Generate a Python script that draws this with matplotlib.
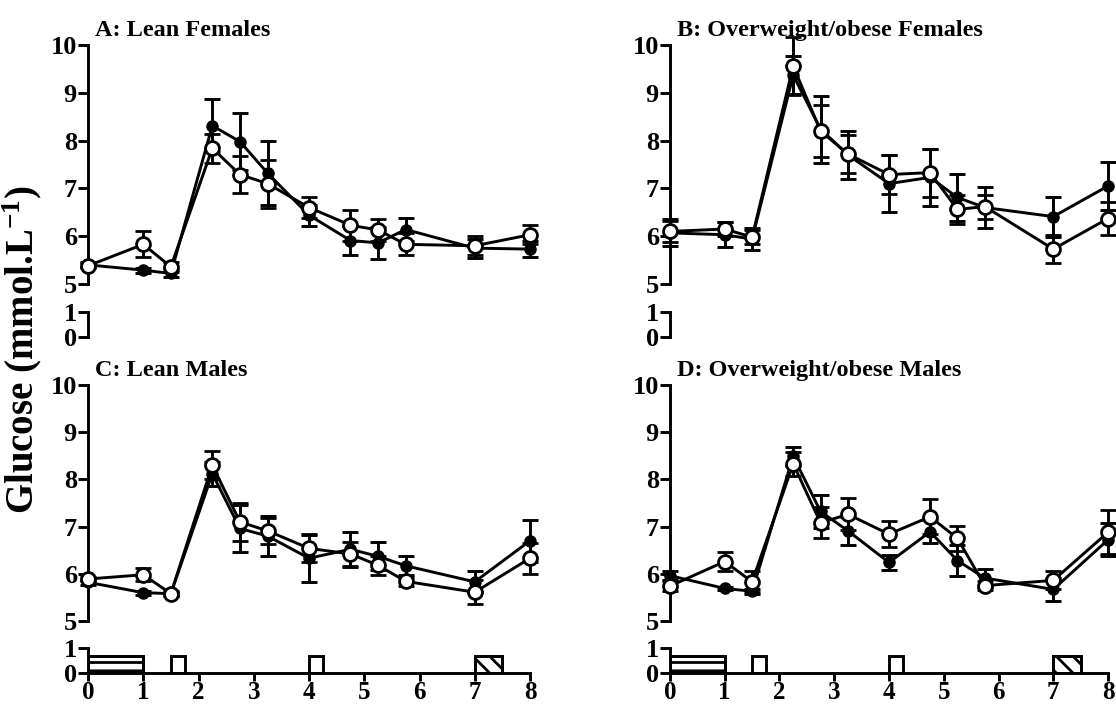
import matplotlib
matplotlib.use("Agg")
import matplotlib.pyplot as plt

# ---------------- data ----------------
time = [0, 1, 1.5, 2.25, 2.75, 3.25, 4, 4.75, 5.25, 5.75, 7, 8]

A_filled = [5.40, 5.29, 5.22, 8.31, 7.98, 7.32, 6.44, 5.91, 5.86, 6.14, 5.75, 5.73]
A_filled_sem = [0.05, 0.05, 0.08, 0.55, 0.60, 0.67, 0.22, 0.30, 0.34, 0.25, 0.20, 0.17]
A_open = [5.38, 5.83, 5.36, 7.84, 7.29, 7.10, 6.60, 6.23, 6.13, 5.83, 5.80, 6.03]
A_open_sem = [0.05, 0.27, 0.10, 0.30, 0.38, 0.50, 0.22, 0.32, 0.22, 0.23, 0.20, 0.20]

B_filled = [6.07, 6.03, 5.94, 9.37, 8.24, 7.70, 7.10, 7.23, 6.81, 6.60, 6.41, 7.05]
B_filled_sem = [0.28, 0.26, 0.23, 0.40, 0.70, 0.50, 0.60, 0.60, 0.50, 0.42, 0.42, 0.50]
B_open = [6.10, 6.15, 5.98, 9.56, 8.20, 7.72, 7.29, 7.33, 6.56, 6.62, 5.73, 6.37]
B_open_sem = [0.22, 0.15, 0.15, 0.60, 0.55, 0.40, 0.40, 0.50, 0.30, 0.25, 0.30, 0.35]

C_filled = [5.82, 5.60, 5.58, 8.12, 6.96, 6.80, 6.33, 6.52, 6.37, 6.17, 5.83, 6.70]
C_filled_sem = [0.05, 0.04, 0.05, 0.25, 0.50, 0.43, 0.50, 0.37, 0.30, 0.20, 0.22, 0.44]
C_open = [5.89, 5.98, 5.58, 8.30, 7.10, 6.91, 6.54, 6.42, 6.18, 5.84, 5.61, 6.33]
C_open_sem = [0.05, 0.14, 0.04, 0.30, 0.40, 0.28, 0.30, 0.25, 0.20, 0.10, 0.26, 0.33]

D_filled = [5.96, 5.69, 5.63, 8.49, 7.32, 6.91, 6.24, 6.89, 6.28, 5.91, 5.67, 6.72]
D_filled_sem = [0.10, 0.04, 0.05, 0.20, 0.35, 0.30, 0.16, 0.24, 0.33, 0.19, 0.25, 0.35]
D_open = [5.74, 6.26, 5.83, 8.33, 7.08, 7.26, 6.84, 7.21, 6.75, 5.75, 5.86, 6.88]
D_open_sem = [0.10, 0.20, 0.22, 0.25, 0.33, 0.34, 0.27, 0.37, 0.26, 0.10, 0.19, 0.47]

titles = ["A: Lean Females", "B: Overweight/obese Females",
          "C: Lean Males", "D: Overweight/obese Males"]

main_yticks = [5, 6, 7, 8, 9, 10]
low_yticks = [0, 1]
xticks = [0, 1, 2, 3, 4, 5, 6, 7, 8]

activity_start = [0, 1.5, 4, 7]
activity_width = [1, 0.25, 0.25, 0.5]
activity_height = [0.7, 0.7, 0.7, 0.7]
activity_hatch = ['--', '', '', '\\\\']

# ---------------- style ----------------
plt.rcParams['font.family'] = ['Liberation Serif', 'DejaVu Serif']
plt.rcParams['font.weight'] = 'bold'
plt.rcParams['mathtext.fontset'] = 'custom'
plt.rcParams['mathtext.rm'] = 'Liberation Serif:bold'
plt.rcParams['mathtext.it'] = 'Liberation Serif:bold'
plt.rcParams['mathtext.bf'] = 'Liberation Serif:bold'
plt.rcParams['hatch.linewidth'] = 2.0

W, H = 1116, 707
fig = plt.figure(figsize=(W / 100, H / 100), dpi=100)

LW = 2.1
TICKFS = 19


def fx(px):
    return px / W


def fy(py):
    return 1 - py / H


panels = [
    # x0px, x8px, y10px, y5px, y1px, y0px, bottom_row
    (88, 530, 45, 284, 312, 337, False),
    (670, 1108, 45, 284, 312, 337, False),
    (88, 530, 385, 621, 648, 673, True),
    (670, 1108, 385, 621, 648, 673, True),
]
series = [
    (A_filled, A_filled_sem, A_open, A_open_sem),
    (B_filled, B_filled_sem, B_open, B_open_sem),
    (C_filled, C_filled_sem, C_open, C_open_sem),
    (D_filled, D_filled_sem, D_open, D_open_sem),
]

for (x0, x8, y10, y5, y1, y0, bottom), (fv, fs, ov, os_), title in zip(panels, series, titles):
    ax = fig.add_axes([fx(x0), fy(y5), fx(x8) - fx(x0), fy(y10) - fy(y5)])
    ax.set_xlim(0, 8)
    ax.set_ylim(5, 10)
    for s in ['top', 'right', 'bottom']:
        ax.spines[s].set_visible(False)
    ax.spines['left'].set_linewidth(LW)
    ax.set_xticks([])
    ax.set_yticks(main_yticks)
    ax.tick_params(axis='y', direction='out', length=7, width=LW, labelsize=TICKFS, pad=1)
    ax.patch.set_alpha(0)

    ax.errorbar(time, fv, yerr=fs, color='black', lw=LW, elinewidth=LW, capsize=6,
                capthick=LW, marker='o', ms=8, mfc='black', mec='black', clip_on=False, zorder=3)
    ax.errorbar(time, ov, yerr=os_, color='black', lw=LW, elinewidth=LW, capsize=6,
                capthick=LW, marker='o', ms=10, mfc='white', mec='black', mew=2.0,
                clip_on=False, zorder=4)
    for child in ax.get_children():
        try:
            child.set_clip_on(False)
        except Exception:
            pass

    fig.text(fx(x0 + 7), fy(y10 - 9), title, fontsize=17.5, fontweight='bold',
             ha='left', va='baseline')

    axl = fig.add_axes([fx(x0), fy(y0), fx(x8) - fx(x0), fy(y1) - fy(y0)])
    axl.set_xlim(0, 8)
    axl.set_ylim(0, 1)
    axl.patch.set_alpha(0)
    for s in ['top', 'right']:
        axl.spines[s].set_visible(False)
    axl.spines['left'].set_linewidth(LW)
    axl.set_yticks(low_yticks)
    axl.tick_params(axis='y', direction='out', length=7, width=LW, labelsize=TICKFS, pad=1)
    if bottom:
        axl.spines['bottom'].set_linewidth(LW)
        axl.set_xticks(xticks)
        axl.tick_params(axis='x', direction='out', length=6, width=LW, labelsize=18, pad=0)
        axl.bar(activity_start, activity_height, width=activity_width, align='edge',
                facecolor='white', edgecolor='black', linewidth=LW, zorder=2)
        for xs, w, h, ht in zip(activity_start, activity_width, activity_height, activity_hatch):
            if ht:
                axl.bar([xs], [h], width=[w], align='edge', facecolor='none',
                        edgecolor='black', linewidth=LW, hatch=ht, zorder=3)
    else:
        axl.spines['bottom'].set_visible(False)
        axl.set_xticks([])

fig.text(fx(22), fy(350), r'Glucose (mmol.L$^{-1}$)', rotation=90, fontsize=28,
         fontweight='bold', ha='center', va='center')

fig.savefig('out.png', dpi=100)
